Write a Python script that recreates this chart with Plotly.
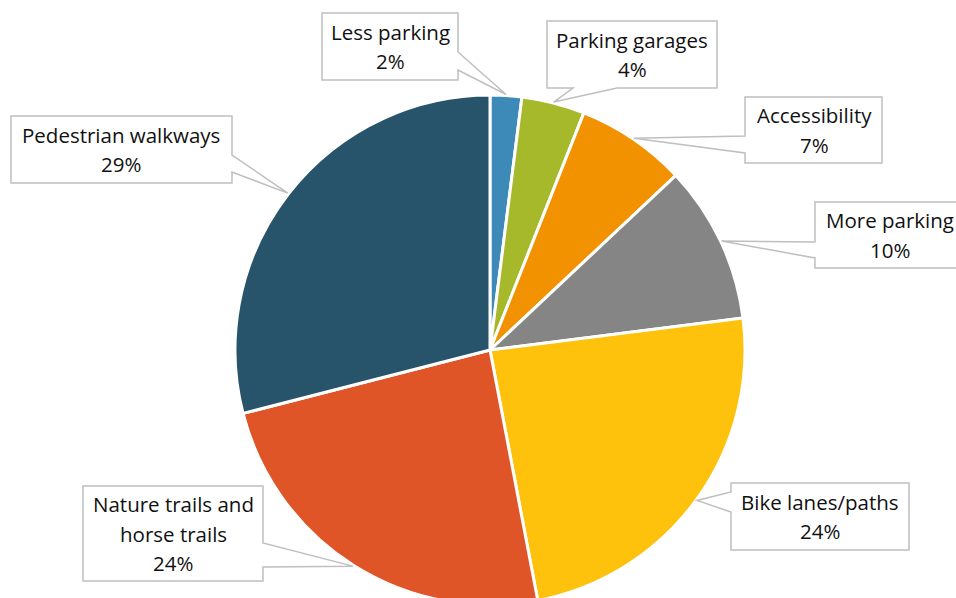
import math
import plotly.graph_objects as go

# ---- data ----
categories = ["Less parking", "Parking garages", "Accessibility", "More parking",
              "Bike lanes/paths", "Nature trails and horse trails", "Pedestrian walkways"]
values = [2, 4, 7, 10, 24, 24, 29]
label_lines = [["Less parking"], ["Parking garages"], ["Accessibility"], ["More parking"],
               ["Bike lanes/paths"], ["Nature trails and", "horse trails"], ["Pedestrian walkways"]]
colors = ["#3D8AB8", "#A6B92B", "#F39200", "#858585", "#FEC10C", "#E05527", "#28546B"]

# ---- layout / style (pixels) ----
W, H = 956, 610          # figure slightly taller than the 598 window; pie bottom is cut like the original
CX, CY, R = 490, 350, 255
TIP_R = 256
# callout boxes: x0, y0, x1, y1, pointer side, pointer base a, base b
boxes = [
    (322, 13, 458, 80, "right", 52, 70),
    (547, 21, 717, 88, "bottom", 573, 617),
    (745, 97, 882, 163, "left", 136, 153),
    (815, 202, 962, 268, "left", 242, 258),
    (731, 483, 909, 550, "left", 492, 512),
    (83, 486, 263, 581, "right", 543, 567),
    (11, 116, 232, 183, "right", 155, 172),
]
text_cx = [390, 632, 814, 890, 820, 173, 121]
LINE_H = 29.5
FONT = dict(family="Open Sans, Calibri, sans-serif", size=20.5, color="#111111")
BORDER = "#BFBFBF"


def X(px):
    return px / W


def Y(py):
    return 1 - py / H


fig = go.Figure(go.Pie(
    labels=categories, values=values, sort=False, direction="clockwise", rotation=0,
    marker=dict(colors=colors, line=dict(color="white", width=3)),
    textinfo="none", hoverinfo="label+percent",
    domain=dict(x=[X(CX - R), X(CX + R)], y=[Y(CY + R), Y(CY - R)]),
    showlegend=False,
))

total = sum(values)
cum = 0
shapes = []
annotations = []
for i, v in enumerate(values):
    mid = (cum + v / 2) / total * 360
    cum += v
    x0, y0, x1, y1, side, a, b = boxes[i]
    th = math.radians(mid)
    tx = CX + TIP_R * math.sin(th)
    ty = CY - TIP_R * math.cos(th)
    if side == "right":
        pts = [(x0, y0), (x1, y0), (x1, a), (tx, ty), (x1, b), (x1, y1), (x0, y1)]
    elif side == "left":
        pts = [(x0, y0), (x1, y0), (x1, y1), (x0, y1), (x0, b), (tx, ty), (x0, a)]
    else:  # bottom
        pts = [(x0, y0), (x1, y0), (x1, y1), (b, y1), (tx, ty), (a, y1), (x0, y1)]
    path = "M " + " L ".join(f"{X(px):.5f},{Y(py):.5f}" for px, py in pts) + " Z"
    shapes.append(dict(type="path", xref="paper", yref="paper", path=path,
                       fillcolor="white", line=dict(color=BORDER, width=1.5), layer="above"))
    lines = label_lines[i] + [f"{round(v / total * 100)}%"]
    ymid = (y0 + y1) / 2
    n = len(lines)
    for k, t in enumerate(lines):
        ly = ymid + (k - (n - 1) / 2) * LINE_H
        annotations.append(dict(x=X(text_cx[i]), y=Y(ly), xref="paper", yref="paper",
                                text=t, showarrow=False, font=FONT,
                                xanchor="center", yanchor="middle"))

fig.update_layout(width=W, height=H, margin=dict(l=0, r=0, t=0, b=0),
                  paper_bgcolor="white", plot_bgcolor="white",
                  shapes=shapes, annotations=annotations)
fig.write_html("out.html", config={"displayModeBar": False},
               post_script="document.body.style.margin='0';document.body.style.overflow='hidden';")
